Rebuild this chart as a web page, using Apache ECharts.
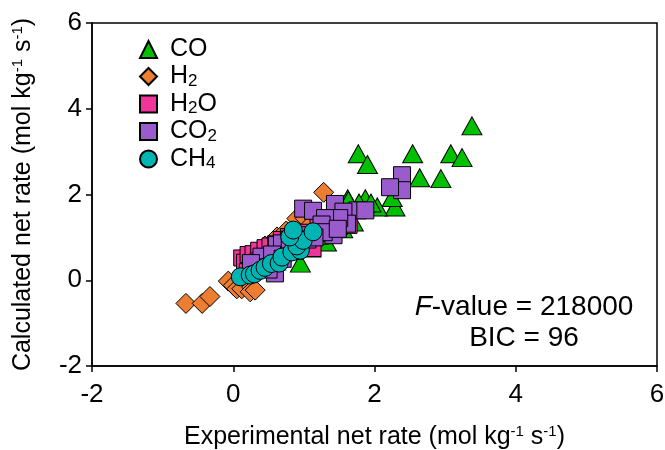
<!DOCTYPE html>
<html>
<head>
<meta charset="utf-8">
<script src="https://cdn.jsdelivr.net/npm/echarts@6/dist/echarts.min.js"></script>
<style>html,body{margin:0;padding:0;background:#fff}#c{width:665px;height:450px}</style>
</head>
<body>
<div id="c"></div>
<script>
// ---- data ----
const xTicks = [-2, 0, 2, 4, 6];
const yTicks = [-2, 0, 2, 4, 6];
const seriesNames = ['CO', 'H2', 'H2O', 'CO2', 'CH4'];

const coData = [
  [3.38,3.60],[1.77,2.95],[1.90,2.70],[2.54,2.95],[3.08,2.95],[3.24,2.86],[2.64,2.39],[2.94,2.37],
  [2.29,1.71],[2.25,1.93],[2.04,1.71],[1.87,1.90],[1.62,1.90],[1.70,1.36],[1.32,0.89],[0.95,0.40],
  [1.63,1.86],[1.78,1.80],[1.95,1.80],[1.50,1.55],[1.40,1.25],[1.20,1.05],[1.05,0.90],[0.85,0.70],
  [0.60,0.45],[0.40,0.30],[1.55,1.20],[1.10,0.75]
];
const h2Data = [
  [-0.67,-0.54],[-0.44,-0.54],[-0.33,-0.38],[-0.07,-0.02],[0.00,-0.12],[0.05,-0.20],[0.12,-0.20],
  [0.26,-0.16],[0.24,-0.27],[0.31,-0.23],[0.62,1.01],[0.99,1.42],[1.28,2.05],[0.90,1.44],[0.45,0.80],
  [0.35,0.60],[0.75,1.15],[1.02,1.44],[0.55,0.45],[0.70,0.70],[0.85,0.95],[1.10,1.30]
];
const h2oData = [
  [0.12,0.52],[0.16,0.42],[0.21,0.60],[0.28,0.62],[0.36,0.70],[0.45,0.76],[0.52,0.80],[0.60,0.85],
  [0.68,0.95],[0.78,1.02],[0.88,1.08],[0.98,1.12],[1.13,0.74],[1.20,1.25],[1.30,1.10],[1.40,1.20],
  [1.50,1.25],[1.64,1.28],[1.60,1.40],[0.25,0.30],[0.35,0.45],[0.48,0.55],[0.20,0.20]
];
const co2Data = [
  [2.39,2.45],[2.39,2.10],[2.22,2.17],[1.76,1.63],[1.87,1.63],[0.99,1.67],[1.13,1.62],[1.44,1.78],
  [1.56,1.60],[1.39,1.28],[1.42,1.05],[1.61,1.32],[1.50,1.45],[1.30,1.45],[1.25,1.30],[1.28,1.12],
  [1.48,1.20],[0.62,0.82],[0.69,0.86],[0.59,0.16],[0.50,0.25],[0.40,0.55],[0.30,0.30],[0.80,0.95],
  [0.92,1.05],[1.05,0.95],[1.15,1.00],[0.55,0.60],[0.25,0.40],[0.70,0.50]
];
const ch4Data = [
  [0.10,0.08],[0.24,0.12],[0.30,0.15],[0.38,0.23],[0.45,0.30],[0.54,0.39],[0.65,0.40],[0.69,0.54],
  [0.83,0.66],[0.95,0.70],[0.90,0.80],[0.99,0.93],[0.80,1.01],[0.85,1.17],[1.13,1.13]
];
const fValueText = '{i|F}-value = 218000';
const bicText = 'BIC = 96';

// ---- chart ----
const FONT = '"Liberation Sans", Arial, sans-serif';
const chart = echarts.init(document.getElementById('c'), null, {renderer: 'canvas'});
const legendLabels = {CO: 'CO', H2: 'H{s|2}', H2O: 'H{s|2}O', CO2: 'CO{s|2}', CH4: 'CH{s|4}'};

function mk(name, data, symbol, size, color) {
  return {
    name, type: 'scatter', data, symbol, symbolSize: size,
    itemStyle: {color, borderColor: '#000', borderWidth: 1, opacity: 1},
    emphasis: {disabled: true}
  };
}
const supRich = {sup: {fontSize: 15, padding: [0, 0, 11, 0], color: '#000', fontFamily: FONT}};

chart.setOption({
  animation: false,
  textStyle: {fontFamily: FONT},
  grid: {left: 92, right: 8, top: 23, bottom: 84, show: true, borderColor: '#000', borderWidth: 1.5,
    outerBoundsMode: 'none', containLabel: false},
  xAxis: {
    type: 'value', min: -2, max: 6, interval: 2,
    axisLine: {show: true, onZero: false, lineStyle: {color: '#000', width: 1.5}},
    axisTick: {show: true, inside: false, length: 6, lineStyle: {color: '#000', width: 1.5}},
    splitLine: {show: false},
    axisLabel: {fontSize: 26, color: '#000', margin: 16, fontFamily: FONT},
    name: 'Experimental net rate (mol kg{sup|-1} s{sup|-1})',
    nameLocation: 'middle', nameGap: 58,
    nameTextStyle: {fontSize: 25, color: '#000', fontFamily: FONT, rich: supRich}
  },
  yAxis: {
    type: 'value', min: -2, max: 6, interval: 2,
    axisLine: {show: true, onZero: false, lineStyle: {color: '#000', width: 1.5}},
    axisTick: {show: true, inside: false, length: 6, lineStyle: {color: '#000', width: 1.5}},
    splitLine: {show: false},
    axisLabel: {fontSize: 26, color: '#000', margin: 10, fontFamily: FONT},
    name: 'Calculated net rate (mol kg{sup|-1} s{sup|-1})',
    nameLocation: 'middle', nameGap: 56, nameRotate: 90,
    nameTextStyle: {fontSize: 25, color: '#000', fontFamily: FONT, rich: supRich}
  },
  legend: {
    data: seriesNames,
    orient: 'vertical', left: 139, top: 37, padding: 0,
    itemWidth: 17, itemHeight: 17, itemGap: 2,
    formatter: n => legendLabels[n],
    textStyle: {fontSize: 25, color: '#000', fontFamily: FONT, padding: [0, 0, 0, 8],
      rich: {s: {fontSize: 17, padding: [9, 0, 0, 0], color: '#000', fontFamily: FONT}}},
    selectedMode: false
  },
  graphic: [
    {type: 'text', x: 524, y: 307, style: {text: fValueText, fontSize: 28, fontFamily: FONT, fill: '#000',
      align: 'center', verticalAlign: 'middle', rich: {i: {fontStyle: 'italic', fontSize: 28, fontFamily: FONT}}}},
    {type: 'text', x: 524, y: 338, style: {text: bicText, fontSize: 28, fontFamily: FONT, fill: '#000',
      align: 'center', verticalAlign: 'middle'}}
  ],
  series: [
    mk('CO', coData, 'triangle', [20, 18], '#00C000'),
    mk('H2', h2Data, 'diamond', 20, '#ED7D31'),
    mk('H2O', h2oData, 'rect', 16, '#F0359A'),
    mk('CO2', co2Data, 'rect', 17, '#9A5BCC'),
    mk('CH4', ch4Data, 'circle', 18, '#00B4B4')
  ]
});
</script>
</body>
</html>
